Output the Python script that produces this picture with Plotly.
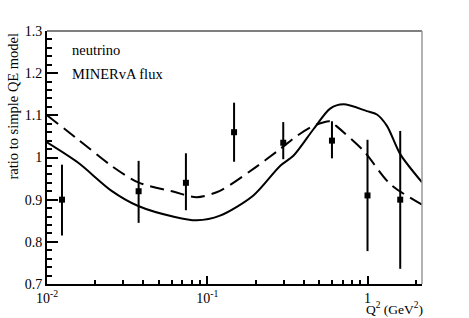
import plotly.graph_objects as go

# ---- data ----
solid_q2 = [0.01, 0.0156, 0.0253, 0.0371, 0.0628, 0.0859, 0.120, 0.194, 0.2845,
            0.3446, 0.4597, 0.5845, 0.708, 0.99, 1.145, 1.322, 1.60, 2.19]
solid_ratio = [1.036, 0.988, 0.921, 0.885, 0.859, 0.851, 0.862, 0.910, 0.980,
               1.004, 1.067, 1.116, 1.126, 1.110, 1.102, 1.075, 1.008, 0.941]

dashed_q2 = [0.01, 0.0156, 0.0253, 0.0371, 0.0628, 0.0859, 0.120, 0.194, 0.2845,
             0.362, 0.4597, 0.5845, 0.6375, 0.944, 1.386, 2.19]
dashed_ratio = [1.100, 1.043, 0.980, 0.941, 0.918, 0.906, 0.921, 0.973, 1.020,
                1.051, 1.075, 1.086, 1.075, 1.016, 0.937, 0.888]

data_q2 = [0.0124, 0.0373, 0.0736, 0.147, 0.298, 0.60, 1.00, 1.60]
data_ratio = [0.900, 0.920, 0.940, 1.060, 1.035, 1.040, 0.910, 0.900]
err_plus = [0.083, 0.072, 0.070, 0.070, 0.049, 0.046, 0.132, 0.163]
err_minus = [0.085, 0.075, 0.065, 0.070, 0.039, 0.042, 0.132, 0.164]

x_major = [0.01, 0.1, 1]
x_major_text = ["10<sup>-2</sup>", "10<sup>-1</sup>", "1"]
x_minor = [0.02, 0.03, 0.04, 0.05, 0.06, 0.07, 0.08, 0.09,
           0.2, 0.3, 0.4, 0.5, 0.6, 0.7, 0.8, 0.9, 2]
y_major = [0.7, 0.8, 0.9, 1.0, 1.1, 1.2, 1.3]
y_major_text = ["0.7", "0.8", "0.9", "1", "1.1", "1.2", "1.3"]

FONT = "Liberation Serif"

fig = go.Figure()
fig.add_trace(go.Scatter(x=solid_q2, y=solid_ratio, mode="lines",
                         line=dict(color="black", width=2, shape="spline", smoothing=0.8),
                         showlegend=False, hoverinfo="skip"))
fig.add_trace(go.Scatter(x=dashed_q2, y=dashed_ratio, mode="lines",
                         line=dict(color="black", width=2, dash="14px,7px",
                                   shape="spline", smoothing=0.8),
                         showlegend=False, hoverinfo="skip"))
fig.add_trace(go.Scatter(x=data_q2, y=data_ratio, mode="markers",
                         marker=dict(symbol="square", size=6, color="black"),
                         error_y=dict(type="data", array=err_plus, arrayminus=err_minus,
                                      symmetric=False, color="black", thickness=2, width=0),
                         showlegend=False))

fig.update_layout(
    width=469, height=318,
    margin=dict(l=47, r=47, t=31, b=32),
    plot_bgcolor="white", paper_bgcolor="white",
    font=dict(family=FONT, size=14, color="black"),
    xaxis=dict(type="log", range=[-2, 0.34], showgrid=False, zeroline=False,
               showline=True, linecolor="black", linewidth=2,
               ticks="inside", ticklen=8, tickwidth=2, tickcolor="black",
               tickmode="array", tickvals=x_major, ticktext=x_major_text,
               tickfont=dict(family=FONT, size=14),
               minor=dict(ticks="inside", ticklen=4, tickwidth=2, tickcolor="black",
                          tickmode="array", tickvals=x_minor, showgrid=False)),
    yaxis=dict(range=[0.7, 1.3], showgrid=False, zeroline=False,
               showline=True, linecolor="black", linewidth=2,
               ticks="inside", ticklen=11, tickwidth=2, tickcolor="black",
               tickmode="array", tickvals=y_major, ticktext=y_major_text,
               tickfont=dict(family=FONT, size=14),
               minor=dict(ticks="inside", ticklen=5, tickwidth=2, tickcolor="black",
                          dtick=0.02, tick0=0.7, showgrid=False)),
    shapes=[
        dict(type="line", xref="paper", yref="paper", x0=0, x1=1, y0=1, y1=1,
             line=dict(color="black", width=1.2)),
        dict(type="line", xref="paper", yref="paper", x0=1, x1=1, y0=0, y1=1,
             line=dict(color="#999999", width=1.5)),
    ],
    annotations=[
        dict(text="neutrino", xref="paper", yref="paper",
             x=(70 - 47) / 375, y=(286 - 50) / 255, xanchor="left", yanchor="middle",
             showarrow=False, font=dict(family=FONT, size=14.5)),
        dict(text="MINERvA flux", xref="paper", yref="paper",
             x=(70 - 47) / 375, y=(286 - 74) / 255, xanchor="left", yanchor="middle",
             showarrow=False, font=dict(family=FONT, size=14.5)),
        dict(text="ratio to simple QE model", xref="paper", yref="paper",
             x=(12 - 47) / 375, y=1.0, xanchor="center", yanchor="top", textangle=-90,
             showarrow=False, font=dict(family=FONT, size=14.5)),
        dict(text="Q<sup>2</sup> (GeV<sup>2</sup>)", xref="paper", yref="paper",
             x=(425 - 47) / 375, y=(286 - 311) / 255, xanchor="right", yanchor="middle",
             showarrow=False, font=dict(family=FONT, size=13.5)),
    ],
)

fig.write_html("out.html", config={"displayModeBar": False},
               post_script="document.body.style.margin='0';document.body.style.overflow='hidden';")
